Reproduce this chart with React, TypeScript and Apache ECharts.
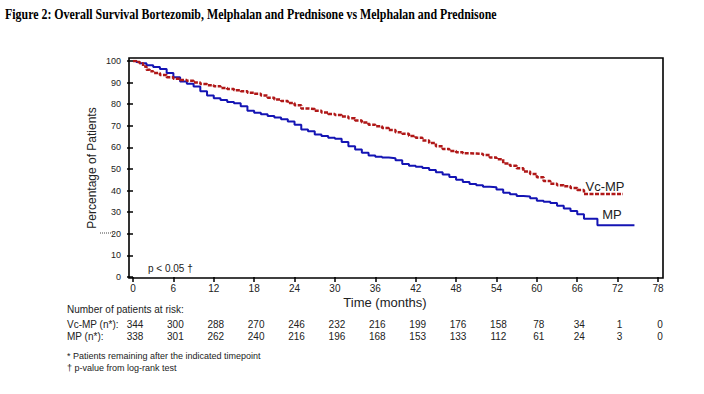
import React, { useEffect, useRef } from "react";
import * as echarts from "echarts";

const vcTimes = [0, 0.5, 1, 1.5, 2, 2.5, 3, 4, 5, 6, 7, 8, 9, 10, 11, 12, 13, 14, 15, 16, 17, 18, 19, 20, 21, 22, 23, 24, 25, 26, 27, 28, 29, 30, 31, 32, 33, 34, 35, 36, 37, 38, 39, 40, 41, 42, 43, 44, 45, 46, 47, 48, 49, 50, 51, 52, 53, 54, 55, 56, 57, 58, 59, 60, 61, 62, 63, 64, 65, 66, 67, 72.8];
const vcSurv = [100, 99.5, 99, 97.5, 96, 95.3, 94.5, 93.5, 92.5, 91.8, 91.2, 90.8, 90, 89.3, 88.8, 88.3, 87.5, 87, 86.5, 86, 85.3, 84.8, 84, 83, 82.2, 81.5, 80.5, 79.5, 78, 77.8, 77, 76.2, 75.5, 75, 74.3, 73.5, 72.5, 71.5, 70.5, 69.8, 69, 68, 67, 66.3, 65.3, 64.5, 63.2, 62, 60.5, 59.3, 58.3, 57.8, 57.3, 57.2, 57, 56.5, 55.3, 54.5, 52.5, 51.5, 50.3, 48.8, 47.7, 46.2, 44.5, 43.2, 42.5, 42, 41.2, 40.3, 38.4, 38.4];

const mpTimes = [0, 0.5, 1, 2, 3, 4, 5, 6, 7, 8, 9, 10, 11, 12, 13, 14, 15, 16, 17, 18, 19, 20, 21, 22, 23, 24, 25, 26, 27, 28, 29, 30, 31, 32, 33, 34, 35, 36, 37, 38, 39, 40, 41, 42, 43, 44, 45, 46, 47, 48, 49, 50, 51, 52, 53, 54, 55, 56, 57, 58, 59, 60, 61, 62, 63, 64, 65, 66, 67, 68, 69, 74.5];
const mpSurv = [100, 99.5, 99, 98, 97.2, 96.3, 94.5, 92.5, 90.5, 89.5, 88.2, 86, 84, 82.8, 82, 81, 80.4, 79, 77, 76, 75.3, 74.5, 73.8, 73, 72, 70.5, 68.3, 67.5, 66, 65.3, 64.5, 64, 62.5, 60.5, 59, 57.5, 56.3, 55.7, 55.3, 55, 54, 52.3, 51.5, 51, 50.5, 49.5, 48.5, 47.5, 46.3, 45, 44, 43, 42.5, 41.8, 41.5, 40.5, 39, 38.3, 37.5, 37.3, 36.5, 35.3, 34.8, 34.3, 33, 31.7, 30.5, 29, 27, 27, 24, 24];

const riskMonths = [0, 6, 12, 18, 24, 30, 36, 42, 48, 54, 60, 66, 72, 78];
const vcRisk = [344, 300, 288, 270, 246, 232, 216, 199, 176, 158, 78, 34, 1, 0];
const mpRisk = [338, 301, 262, 240, 216, 196, 168, 153, 133, 112, 61, 24, 3, 0];

const TITLE = "Figure 2: Overall Survival Bortezomib, Melphalan and Prednisone vs Melphalan and Prednisone";
const SANS = "'Liberation Sans', Arial, sans-serif";
const SERIF = "'Liberation Serif', 'Times New Roman', serif";

export default function App() {
  const ref = useRef<HTMLDivElement>(null);
  useEffect(() => {
    document.body.style.margin = "0";
    const chart = echarts.init(ref.current!, null, { renderer: "svg", width: 704, height: 394 });
    chart.setOption({
      animation: false,
      backgroundColor: "#fff",
      grid: { left: 133, right: 46, top: 61, bottom: 117, show: false },
      xAxis: {
        type: "value", min: 0, max: 78, interval: 6, offset: 1,
        axisLine: { show: false },
        axisTick: { show: true, length: 5, lineStyle: { color: "#000", width: 1.5 } },
        axisLabel: { fontSize: 10, color: "#222", margin: 5, fontFamily: SANS },
        splitLine: { show: false },
      },
      yAxis: {
        type: "value", min: 0, max: 100, interval: 10, offset: 4,
        axisLine: { show: false },
        axisTick: { show: true, length: 6, lineStyle: { color: "#000", width: 1.5 } },
        axisLabel: { fontSize: 9, color: "#222", margin: 8, fontFamily: SANS },
        splitLine: { show: false },
      },
      series: [
        {
          name: "MP", type: "line", step: "end", symbol: "none",
          data: mpTimes.map((t, i) => [t, mpSurv[i]]),
          lineStyle: { color: "#1414b4", width: 2 },
        },
        {
          name: "Vc-MP", type: "line", step: "end", symbol: "none",
          data: vcTimes.map((t, i) => [t, vcSurv[i]]),
          lineStyle: { color: "#b01818", width: 2.5, type: [4, 1.5] },
        },
      ],
    });

    const ctx = document.createElement("canvas").getContext("2d")!;
    ctx.font = "bold 14px " + SERIF;
    const tw = ctx.measureText(TITLE).width;
    const sx = 492 / tw;

    const g: any[] = [
      { type: "rect", shape: { x: 129, y: 58, width: 534, height: 220 }, style: { fill: "none", stroke: "#000", lineWidth: 1.6 }, silent: true },
      { type: "text", x: 5, y: 14, scaleX: sx, style: { text: TITLE, font: "bold 14px " + SERIF, fill: "#000", verticalAlign: "middle", align: "left" } },
      { type: "text", x: 92, y: 168, rotation: Math.PI / 2, style: { text: "Percentage of Patients", font: "12px " + SANS, fill: "#222", align: "center", verticalAlign: "middle" } },
      { type: "line", shape: { x1: 100, y1: 233, x2: 113, y2: 233 }, style: { stroke: "#444", lineWidth: 1, lineDash: [1, 1] } },
      { type: "text", x: 148, y: 268, style: { text: "p < 0.05 †", font: "10px " + SANS, fill: "#222", verticalAlign: "middle" } },
      { type: "text", x: 385, y: 302, style: { text: "Time (months)", font: "13px " + SANS, fill: "#222", align: "center", verticalAlign: "middle" } },
      { type: "text", x: 605, y: 186, style: { text: "Vc-MP", font: "13px " + SANS, fill: "#222", align: "center", verticalAlign: "middle" } },
      { type: "text", x: 612, y: 214, style: { text: "MP", font: "13px " + SANS, fill: "#222", align: "center", verticalAlign: "middle" } },
      { type: "text", x: 67, y: 309, style: { text: "Number of patients at risk:", font: "10px " + SANS, fill: "#222", verticalAlign: "middle" } },
      { type: "text", x: 67, y: 324, style: { text: "Vc-MP (n*):", font: "10px " + SANS, fill: "#222", verticalAlign: "middle" } },
      { type: "text", x: 67, y: 336, style: { text: "MP (n*):", font: "10px " + SANS, fill: "#222", verticalAlign: "middle" } },
      { type: "text", x: 67, y: 356, style: { text: "* Patients remaining after the indicated timepoint", font: "9px " + SANS, fill: "#222", verticalAlign: "middle" } },
      { type: "text", x: 67, y: 368, style: { text: "† p-value from log-rank test", font: "9px " + SANS, fill: "#222", verticalAlign: "middle" } },
    ];
    riskMonths.forEach((m, i) => {
      const px = chart.convertToPixel({ xAxisIndex: 0 }, m) as number;
      g.push({ type: "text", x: px + 2, y: 324, style: { text: String(vcRisk[i]), font: "10px " + SANS, fill: "#222", align: "center", verticalAlign: "middle" } });
      g.push({ type: "text", x: px + 2, y: 336, style: { text: String(mpRisk[i]), font: "10px " + SANS, fill: "#222", align: "center", verticalAlign: "middle" } });
    });
    chart.setOption({ graphic: g });
    return () => chart.dispose();
  }, []);
  return <div ref={ref} style={{ width: 704, height: 394, background: "#fff" }} />;
}
